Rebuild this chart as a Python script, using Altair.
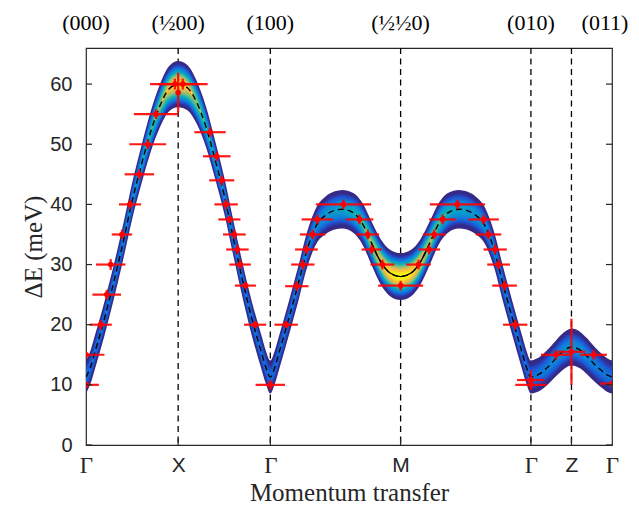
import json
import numpy as np
import pandas as pd
import altair as alt

# ---------------- data ----------------
# high-symmetry points along the momentum path
sym_pos = [0.0, 1.0, 2.0, 3.414, 4.828, 5.268, 5.708]
sym_bottom = ["Γ", "X", "Γ", "M", "Γ", "Z", "Γ"]
line_pos = [1.0, 2.0, 3.414, 4.828, 5.268]
top_pos = [0.0, 1.0, 2.0, 3.414, 4.828, 5.708]
top_labels = ["(000)", "(½00)", "(100)", "(½½0)", "(010)", "(011)"]
ytick_vals = [0, 10, 20, 30, 40, 50, 60]

# calculated dispersion (dashed curve) and relative intensity at band centre
disp_q = [0.0, 0.05, 0.1, 0.2, 0.3, 0.4, 0.5, 0.6, 0.7, 0.8, 0.9, 1.0,
          1.1, 1.2, 1.3, 1.4, 1.5, 1.6, 1.7, 1.8, 1.9, 1.95, 2.0,
          2.05, 2.1, 2.2, 2.3, 2.4, 2.5, 2.6, 2.7, 2.78, 2.9, 3.0, 3.1, 3.2, 3.3, 3.414,
          3.528, 3.628, 3.728, 3.828, 3.928, 4.048, 4.128, 4.228, 4.328, 4.428, 4.528,
          4.628, 4.728, 4.778, 4.828,
          4.88, 4.93, 5.0, 5.1, 5.18, 5.268, 5.36, 5.44, 5.52, 5.6, 5.66, 5.708]
disp_E = [11.3, 13.0, 15.6, 21.0, 27.0, 33.5, 40.5, 46.5, 52.0, 56.3, 59.2, 60.0,
          59.4, 57.0, 53.0, 47.5, 41.5, 34.3, 27.3, 21.0, 15.6, 13.0, 11.3,
          13.0, 15.6, 21.0, 26.6, 32.5, 36.5, 38.2, 39.0, 39.2, 38.6, 36.8, 33.5, 30.4, 28.6, 28.0,
          28.6, 30.4, 33.5, 36.8, 38.6, 39.2, 39.0, 38.2, 36.5, 32.5, 26.6,
          21.0, 15.6, 13.0, 11.3,
          11.5, 11.9, 12.8, 14.4, 15.6, 16.3, 15.8, 14.7, 13.4, 12.3, 11.6, 11.3]
disp_I = [0.28, 0.28, 0.29, 0.30, 0.31, 0.33, 0.36, 0.42, 0.52, 0.65, 0.82, 0.93,
          0.82, 0.65, 0.52, 0.42, 0.36, 0.33, 0.31, 0.30, 0.29, 0.28, 0.28,
          0.28, 0.29, 0.30, 0.32, 0.34, 0.37, 0.40, 0.42, 0.44, 0.49, 0.57, 0.69, 0.84, 0.95, 1.00,
          0.95, 0.84, 0.69, 0.57, 0.49, 0.44, 0.42, 0.40, 0.37, 0.34, 0.32,
          0.30, 0.29, 0.28, 0.28,
          0.29, 0.30, 0.32, 0.35, 0.37, 0.38, 0.37, 0.35, 0.32, 0.30, 0.29, 0.28]

# measured points: position, energy, horizontal and vertical error
pt_q = [0.0, 0.0, 0.16, 0.225, 0.268, 0.39, 0.478, 0.579, 0.67, 0.76, 0.965, 1.05, 1.0,
        1.346, 1.419, 1.473, 1.52, 1.556, 1.61, 1.643, 1.672, 1.73, 1.835, 2.0,
        2.172, 2.288, 2.353, 2.392, 2.46, 2.51, 2.794, 2.968, 3.058, 3.10, 3.217, 3.414,
        3.608, 3.724, 3.779, 3.869, 4.031, 4.314, 4.368, 4.44, 4.477, 4.542, 4.658, 4.828, 4.828,
        5.10, 5.268, 5.508, 5.708]
pt_E = [10.0, 15.0, 20.0, 25.0, 30.0, 35.0, 40.0, 45.0, 50.0, 55.0, 60.0, 60.0, 58.6,
        52.0, 48.0, 44.0, 40.0, 37.5, 35.0, 32.5, 30.0, 26.5, 20.0, 10.0,
        20.0, 26.4, 30.0, 32.5, 35.0, 37.5, 40.0, 37.5, 35.0, 32.5, 30.0, 26.5,
        30.0, 32.5, 35.0, 37.5, 40.0, 37.5, 35.0, 32.5, 30.0, 26.5, 20.0, 10.8, 10.0,
        15.0, 15.5, 15.0, 10.2]
pt_dq = [0.14, 0.20, 0.12, 0.155, 0.16, 0.11, 0.12, 0.16, 0.20, 0.24, 0.27, 0.27, 0.0,
         0.17, 0.15, 0.136, 0.127, 0.12, 0.123, 0.122, 0.117, 0.114, 0.12, 0.16,
         0.127, 0.127, 0.127, 0.123, 0.139, 0.17, 0.30, 0.15, 0.123, 0.109, 0.13, 0.244,
         0.134, 0.117, 0.123, 0.144, 0.30, 0.166, 0.139, 0.127, 0.123, 0.134, 0.132, 0.15, 0.17,
         0.163, 0.15, 0.145, 0.13]
pt_dE = [0.5, 0.5, 0.8, 0.8, 0.9, 0.8, 0.8, 0.8, 0.8, 0.8, 0.9, 0.9, 3.3,
         0.8, 0.8, 0.8, 0.8, 0.6, 0.8, 0.8, 0.8, 0.6, 0.6, 0.8,
         0.6, 0.8, 0.8, 0.8, 0.8, 0.8, 0.8, 0.8, 0.8, 0.8, 0.8, 0.8,
         0.8, 0.8, 0.8, 0.8, 0.8, 0.8, 0.8, 0.8, 0.8, 0.8, 0.8, 1.6, 0.8,
         0.8, 5.5, 0.8, 0.5]

# ---------------- styling ----------------
W, H = 526, 397
AX = "#262626"
parula = ["#352A87", "#2053D4", "#1079DA", "#0C93D2", "#07A9C2", "#38B99E",
          "#7CBF7B", "#B7BD64", "#F1B94A", "#FCCE2E", "#F9FB0E"]


def cmap(f):
    f = min(max(f, 0.0), 1.0)
    pos = f * (len(parula) - 1)
    i = min(int(pos), len(parula) - 2)
    fr = pos - i
    a = [int(parula[i][j:j + 2], 16) for j in (1, 3, 5)]
    b = [int(parula[i + 1][j:j + 2], 16) for j in (1, 3, 5)]
    c = [round(a[m] + (b[m] - a[m]) * fr) for m in range(3)]
    return "#%02x%02x%02x" % tuple(c)


# band: gaussian energy profile around the dispersion, cut into colour levels
sigma, t_cut, c0, N = 1.74, 0.08, 0.12, 28
q = np.array(disp_q)
E = np.array(disp_E)
I = np.array(disp_I)
thresholds = [t_cut] + [c0 + (1 - c0) * k / N for k in range(1, N)]
colors = [cmap(0.0)] + [cmap(k / (N - 1)) for k in range(1, N)]
band_rows = []
for k, v in enumerate(thresholds):
    h = sigma * np.sqrt(2 * np.log(np.maximum(I / v, 1.0)))
    for qi, Ei, hi in zip(q, E, h):
        band_rows.append({"q": float(qi), "lo": float(Ei - hi), "hi": float(Ei + hi), "level": k})
band_df = pd.DataFrame(band_rows)

disp_df = pd.DataFrame({"q": disp_q, "E": disp_E})
pts = pd.DataFrame({"q": pt_q, "E": pt_E, "dq": pt_dq, "dE": pt_dE})
pts["xlo"] = pts["q"] - pts["dq"]
pts["xhi"] = pts["q"] + pts["dq"]
pts["ylo"] = pts["E"] - pts["dE"]
pts["yhi"] = pts["E"] + pts["dE"]

xs = alt.Scale(domain=[0, 5.708], nice=False, zero=False)
ys = alt.Scale(domain=[0, 66], nice=False)

label_expr = "{}[indexof({}, datum.value)]".format(
    json.dumps(sym_bottom, ensure_ascii=False), json.dumps(sym_pos))
sans_test = "indexof([1, 3.414, 5.268], datum.value) >= 0"

xaxis = alt.Axis(values=sym_pos, labelExpr=label_expr, ticks=False, domain=False, grid=False,
                 labelFlush=False, labelOverlap=False, labelPadding=9, labelColor=AX,
                 labelFont={"condition": {"test": sans_test, "value": "Liberation Sans"},
                            "value": "Liberation Serif"},
                 labelFontSize={"condition": {"test": sans_test, "value": 21}, "value": 23},
                 title="Momentum transfer", titleFont="Liberation Serif", titleFontSize=25,
                 titleFontWeight="normal", titleColor=AX, titlePadding=3)
yaxis = alt.Axis(values=ytick_vals, ticks=False, domain=False, grid=False,
                 labelFont="Liberation Sans", labelFontSize=20, labelColor=AX, labelPadding=14,
                 title="ΔE (meV)", titleFont="Liberation Serif", titleFontSize=25,
                 titleFontWeight="normal", titleColor=AX, titlePadding=3)


def X(field):
    return alt.X(field, type="quantitative", scale=xs, axis=xaxis)


def Y(field):
    return alt.Y(field, type="quantitative", scale=ys, axis=yaxis)


layers = []

# vertical dashed lines at high-symmetry points
layers.append(alt.Chart(pd.DataFrame({"q": line_pos})).mark_rule(
    color="black", strokeWidth=1.3, strokeDash=[6, 4.5]).encode(x=X("q")))

# intensity band
for k in range(N):
    layers.append(alt.Chart(band_df).transform_filter(alt.datum.level == k).mark_area(
        color=colors[k], interpolate="monotone", clip=True, opacity=1
    ).encode(x=X("q"), y=Y("lo"), y2="hi:Q"))

# dispersion curve
layers.append(alt.Chart(disp_df).mark_line(
    color="black", strokeWidth=1.4, strokeDash=[6, 4], interpolate="monotone", clip=True
).encode(x=X("q"), y=Y("E")))
layers.append(alt.Chart(disp_df).transform_filter(
    (alt.datum.q >= 3.1) & (alt.datum.q <= 3.728)).mark_line(
    color="black", strokeWidth=1.4, interpolate="monotone", clip=True
).encode(x=X("q"), y=Y("E")))

# error bars and points
layers.append(alt.Chart(pts).mark_rule(color="#ff0000", strokeWidth=2.2, clip=True, opacity=0.9)
              .encode(x=X("xlo"), x2="xhi:Q", y=Y("E")))
layers.append(alt.Chart(pts).mark_rule(color="#ff0000", strokeWidth=2.2, clip=True, opacity=0.9)
              .encode(x=X("q"), y=Y("ylo"), y2="yhi:Q"))
layers.append(alt.Chart(pts).mark_circle(color="#ff0000", size=32, opacity=1, clip=True)
              .encode(x=X("q"), y=Y("E")))

# inward ticks
ytk = pd.DataFrame({"v": ytick_vals})
layers.append(alt.Chart(ytk).mark_rule(color=AX, strokeWidth=1.2).encode(
    x=alt.value(0), x2=alt.value(6), y=Y("v")))
layers.append(alt.Chart(ytk).mark_rule(color=AX, strokeWidth=1.2).encode(
    x=alt.value(W - 6), x2=alt.value(W), y=Y("v")))
xtk = pd.DataFrame({"q": line_pos})
layers.append(alt.Chart(xtk).mark_rule(color=AX, strokeWidth=1.2).encode(
    x=X("q"), y=alt.value(H - 6), y2=alt.value(H)))

# top labels (the last one nudged left to stay inside the page)
top_df = pd.DataFrame({"q": top_pos, "label": top_labels})
layers.append(alt.Chart(top_df.iloc[:-1]).mark_text(
    font="Liberation Serif", fontSize=22, baseline="middle", align="center", color="black"
).encode(x=X("q"), y=alt.value(-25), text="label:N"))
layers.append(alt.Chart(top_df.iloc[-1:]).mark_text(
    font="Liberation Serif", fontSize=22, baseline="middle", align="center", color="black", dx=-7
).encode(x=X("q"), y=alt.value(-25), text="label:N"))

chart = alt.layer(*layers).properties(
    width=W, height=H,
    autosize=alt.AutoSizeParams(type="none"),
    padding={"left": 78, "top": 40, "right": 19, "bottom": 59},
    background="white",
).configure_view(stroke=AX, strokeWidth=1.2)

chart.save("out.html", embed_options={"renderer": "svg", "actions": False})
